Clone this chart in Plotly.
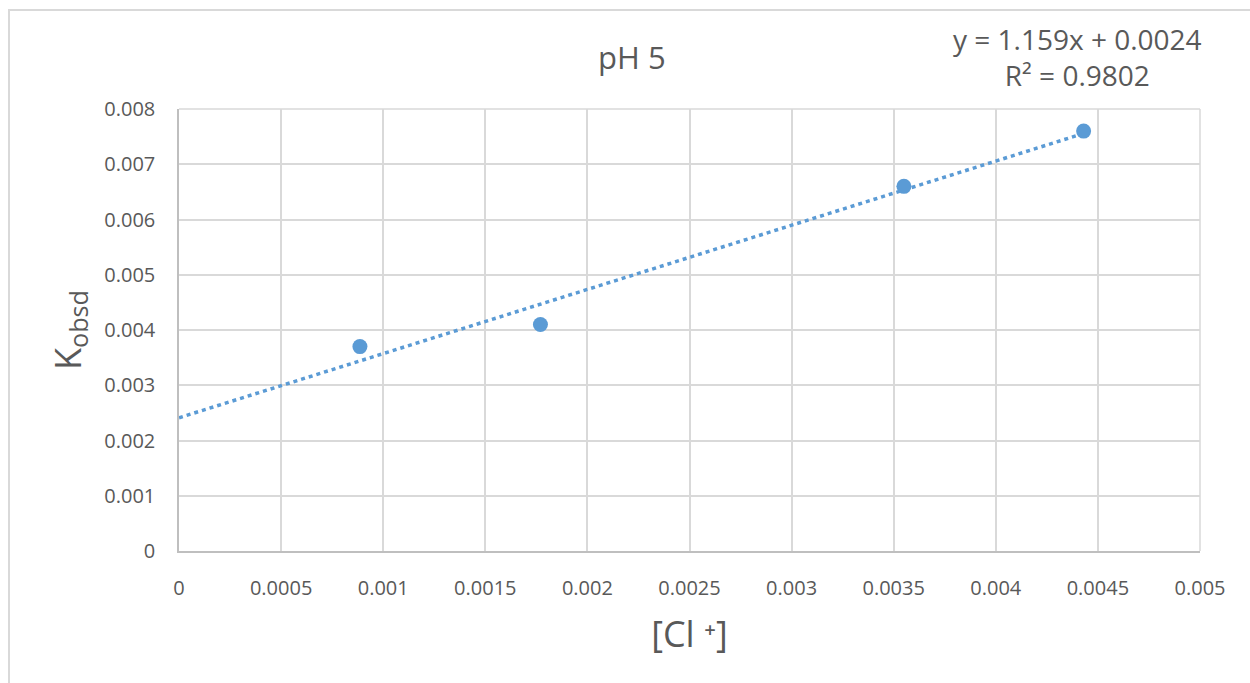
import numpy as np
import plotly.graph_objects as go

# Data
cl_conc = [0.000886, 0.00177, 0.00355, 0.00443]
k_obsd = [0.0037, 0.0041, 0.0066, 0.0076]

x_ticks = [0, 0.0005, 0.001, 0.0015, 0.002, 0.0025, 0.003, 0.0035, 0.004, 0.0045, 0.005]
x_tick_labels = ["0", "0.0005", "0.001", "0.0015", "0.002", "0.0025", "0.003", "0.0035", "0.004", "0.0045", "0.005"]
y_ticks = [0, 0.001, 0.002, 0.003, 0.004, 0.005, 0.006, 0.007, 0.008]
y_tick_labels = ["0", "0.001", "0.002", "0.003", "0.004", "0.005", "0.006", "0.007", "0.008"]

title_text = "pH 5"
equation_text = "y = 1.159x + 0.0024<br>R² = 0.9802"

BLUE = "#5B9BD5"
GREY_TXT = "#595959"
GRID = "#D9D9D9"
FONT = "Open Sans"

slope, intercept = np.polyfit(cl_conc, k_obsd, 1)
trend_x = [0, max(cl_conc)]
trend_y = [intercept + slope * v for v in trend_x]

fig = go.Figure()
fig.add_trace(go.Scatter(
    x=trend_x, y=trend_y, mode="lines",
    line=dict(color=BLUE, width=3.5, dash="4px,4px"),
    hoverinfo="skip", showlegend=False,
))
fig.add_trace(go.Scatter(
    x=cl_conc, y=k_obsd, mode="markers",
    marker=dict(color=BLUE, size=15, line=dict(width=0)),
    showlegend=False,
))

fig.update_layout(
    width=1250, height=683,
    margin=dict(l=179, r=50, t=109, b=132),
    paper_bgcolor="white", plot_bgcolor="white",
    font=dict(family=FONT, color=GREY_TXT),
    showlegend=False,
    xaxis=dict(
        range=[0, 0.005], tickvals=x_ticks, ticktext=x_tick_labels,
        showgrid=True, gridcolor=GRID, gridwidth=1.5,
        showline=True, linecolor="#BFBFBF", linewidth=1.5,
        zeroline=False, ticks="", ticklabelstandoff=18,
        tickfont=dict(size=20, color=GREY_TXT, family=FONT),
        title=dict(text="[Cl ⁺]", font=dict(size=36, color=GREY_TXT, family=FONT), standoff=22),
        mirror=False,
    ),
    yaxis=dict(
        range=[0, 0.008], tickvals=y_ticks, ticktext=y_tick_labels,
        showgrid=True, gridcolor=GRID, gridwidth=1.5,
        showline=True, linecolor="#BFBFBF", linewidth=1.5,
        zeroline=False, ticks="", ticklabelstandoff=18,
        tickfont=dict(size=20, color=GREY_TXT, family=FONT),
        title=dict(text="K<sub>obsd</sub>", font=dict(size=36, color=GREY_TXT, family=FONT), standoff=12),
    ),
    shapes=[
        dict(type="rect", xref="paper", yref="paper",
             x0=-0.1665, x1=1.2, y0=-0.5, y1=1.224,
             line=dict(color=GRID, width=2), fillcolor="rgba(0,0,0,0)", layer="below"),
        dict(type="line", xref="paper", yref="paper", x0=1, x1=1, y0=0, y1=1,
             line=dict(color=GRID, width=1.5)),
        dict(type="line", xref="paper", yref="paper", x0=0, x1=1, y0=1, y1=1,
             line=dict(color=GRID, width=1.5)),
    ],
    annotations=[
        dict(text=title_text, xref="paper", yref="paper", x=0.4437, y=1.1176,
             xanchor="center", yanchor="middle", showarrow=False,
             font=dict(size=31, color=GREY_TXT, family=FONT)),
        dict(text=equation_text, xref="paper", yref="paper", x=0.8798, y=1.1176,
             xanchor="center", yanchor="middle", showarrow=False, align="center",
             font=dict(size=28, color=GREY_TXT, family=FONT)),
    ],
)

fig.write_html("out.html")
